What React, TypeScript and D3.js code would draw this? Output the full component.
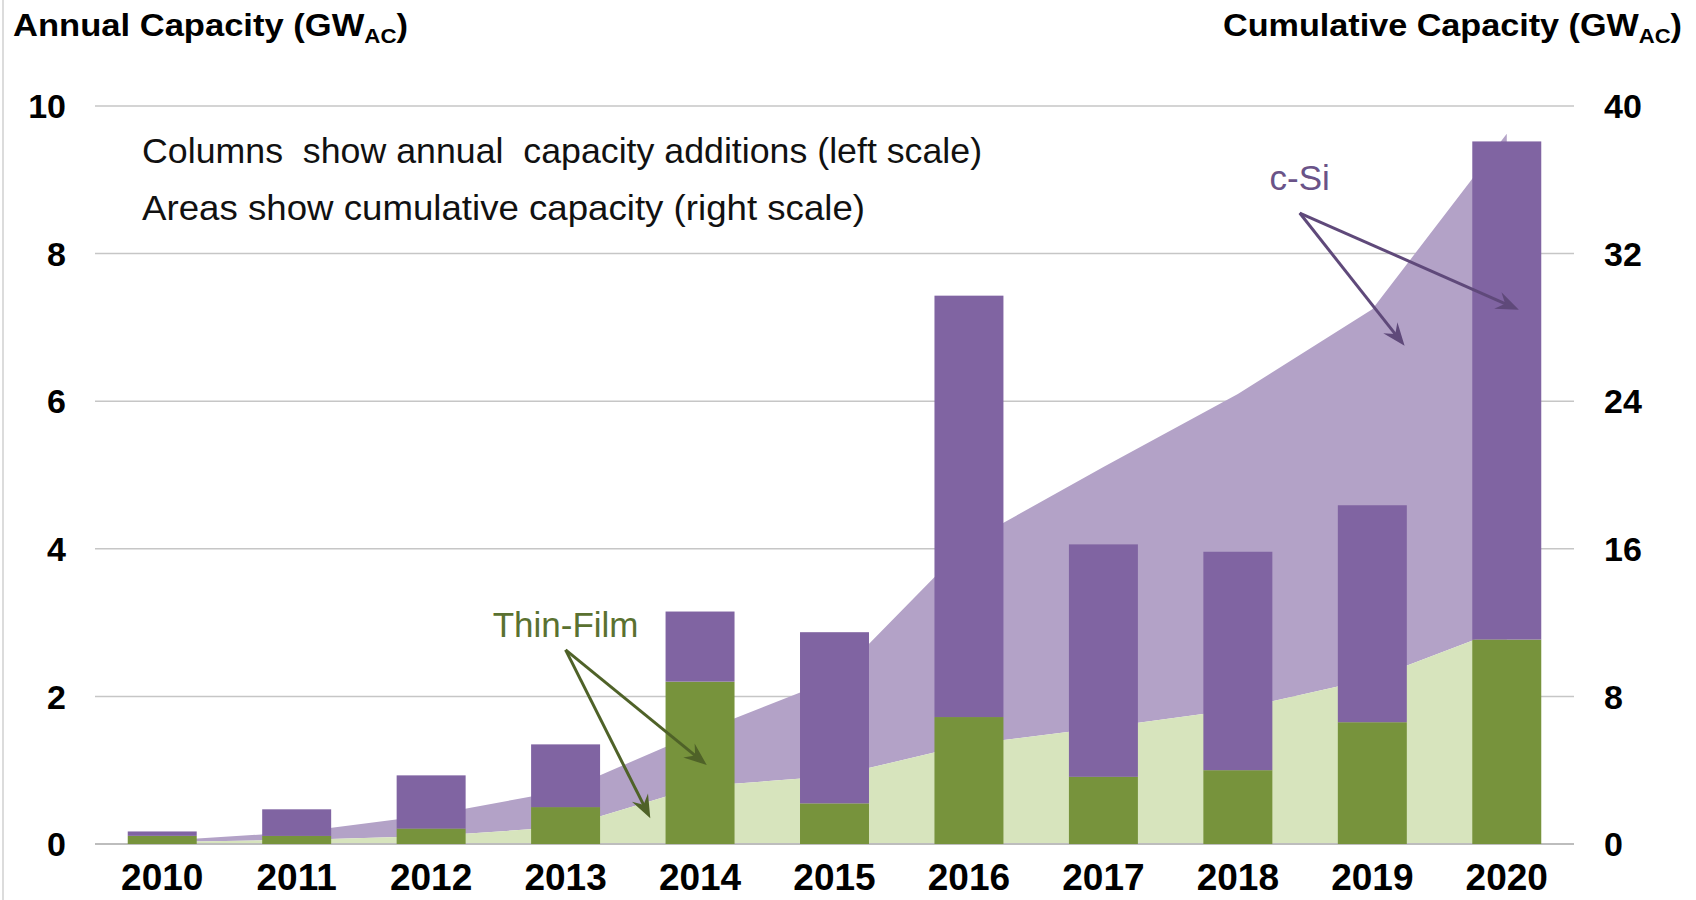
import React from 'react';
import * as d3 from 'd3';

const years = ['2010', '2011', '2012', '2013', '2014', '2015', '2016', '2017', '2018', '2019', '2020'];
const thinFilmAnnual = [0.11, 0.11, 0.21, 0.5, 2.2, 0.55, 1.72, 0.91, 1.0, 1.65, 2.77];
const cSiAnnual = [0.06, 0.36, 0.72, 0.85, 0.95, 2.32, 5.71, 3.15, 2.96, 2.94, 6.75];
const thinFilmCumulative = [0.11, 0.22, 0.43, 0.93, 3.13, 3.68, 5.4, 6.31, 7.31, 8.96, 11.73];
const cSiCumulative = [0.06, 0.42, 1.14, 1.99, 2.94, 5.26, 10.97, 14.12, 17.08, 20.02, 26.77];
const leftTicks = [0, 2, 4, 6, 8, 10];
const rightTicks = [0, 8, 16, 24, 32, 40];

const leftTitle = 'Annual Capacity (GW';
const rightTitle = 'Cumulative Capacity (GW';
const noteLines = ['Columns  show annual  capacity additions (left scale)', 'Areas show cumulative capacity (right scale)'];
const noteWidths = [840, 723];

// annotation anchors in data space: category index (fractional) and left-scale value
const thinFilmLabel = { i: 3.0, v: 2.8, text: 'Thin-Film' };
const thinFilmArrows = [
  { from: { i: 3.0, v: 2.63 }, to: { i: 3.63, v: 0.35 } },
  { from: { i: 3.0, v: 2.63 }, to: { i: 4.05, v: 1.07 } },
];
const cSiLabel = { i: 8.46, v: 8.86, text: 'c-Si' };
const cSiArrows = [
  { from: { i: 8.46, v: 8.55 }, to: { i: 9.24, v: 6.75 } },
  { from: { i: 8.46, v: 8.55 }, to: { i: 10.09, v: 7.24 } },
];
const notePos = [{ i: -0.15, v: 9.23 }, { i: -0.15, v: 8.46 }];

const W = 1696;
const H = 900;
const plotLeft = 95;
const plotRight = 1574;
const yBase = 844;
const yTop = 106;

const C_SI_BAR = '#8064A2';
const TF_BAR = '#77933C';
const C_SI_AREA = '#B3A2C7';
const TF_AREA = '#D7E4BD';
const TF_TEXT = '#5A7130';
const C_SI_TEXT = '#6A5388';
const GRID = '#C6C6C6';

export default function App() {
  const x = d3
    .scaleBand<string>()
    .domain(years)
    .range([plotLeft, plotRight])
    .paddingInner(0.487)
    .paddingOuter(0.2435);
  const bw = x.bandwidth();
  const step = x.step();
  const cx = (i: number) => (x(years[0]) as number) + bw / 2 + i * step;
  const yL = d3.scaleLinear().domain([0, 10]).range([yBase, yTop]);
  const yR = d3.scaleLinear().domain([0, 40]).range([yBase, yTop]);

  const idx = years.map((_, i) => i);
  const tfArea = d3
    .area<number>()
    .x((i) => cx(i))
    .y0(() => yR(0))
    .y1((i) => yR(thinFilmCumulative[i]));
  const cSiArea = d3
    .area<number>()
    .x((i) => cx(i))
    .y0((i) => yR(thinFilmCumulative[i]))
    .y1((i) => yR(thinFilmCumulative[i] + cSiCumulative[i]));

  const arrowLine = (a: { from: { i: number; v: number }; to: { i: number; v: number } }, shorten: number) => {
    const x1 = cx(a.from.i);
    const y1 = yL(a.from.v);
    const x2 = cx(a.to.i);
    const y2 = yL(a.to.v);
    const len = Math.hypot(x2 - x1, y2 - y1);
    const k = (len - shorten) / len;
    return { x1, y1, x2: x1 + (x2 - x1) * k, y2: y1 + (y2 - y1) * k, tx: x2, ty: y2, ang: (Math.atan2(y2 - y1, x2 - x1) * 180) / Math.PI };
  };

  const arrowHead = 'M0,0 L-23,-9 L-15,0 L-23,9 Z';

  return (
    <svg
      width={W}
      height={H}
      style={{ position: 'absolute', left: 0, top: 0, display: 'block', background: '#fff' }}
      fontFamily="'Liberation Sans', Arial, sans-serif"
    >
      <rect x={0} y={0} width={W} height={H} fill="#fff" />
      <line x1={3} x2={3} y1={0} y2={H} stroke="#D0D0D0" strokeWidth={1.5} />

      {/* gridlines */}
      {leftTicks.filter((t) => t !== 0).map((t) => (
        <line key={t} x1={plotLeft} x2={plotRight} y1={yL(t)} y2={yL(t)} stroke={GRID} strokeWidth={1.5} />
      ))}

      {/* cumulative areas */}
      <path d={cSiArea(idx) || ''} fill={C_SI_AREA} />
      <path d={tfArea(idx) || ''} fill={TF_AREA} />

      {/* baseline */}
      <line x1={plotLeft} x2={plotRight} y1={yBase} y2={yBase} stroke="#BDBDBD" strokeWidth={2} />

      {/* bars */}
      {years.map((yr, i) => (
        <g key={yr}>
          <rect x={x(yr)} y={yL(thinFilmAnnual[i])} width={bw} height={yL(0) - yL(thinFilmAnnual[i])} fill={TF_BAR} />
          <rect
            x={x(yr)}
            y={yL(thinFilmAnnual[i] + cSiAnnual[i])}
            width={bw}
            height={yL(thinFilmAnnual[i]) - yL(thinFilmAnnual[i] + cSiAnnual[i])}
            fill={C_SI_BAR}
          />
        </g>
      ))}

      {/* left ticks */}
      {leftTicks.map((t) => (
        <text key={t} x={66} y={yL(t)} dy="0.36em" textAnchor="end" fontSize={34} fontWeight="bold" fill="#000">
          {t}
        </text>
      ))}
      {/* right ticks */}
      {rightTicks.map((t) => (
        <text key={t} x={1604} y={yR(t)} dy="0.36em" textAnchor="start" fontSize={34} fontWeight="bold" fill="#000">
          {t}
        </text>
      ))}
      {/* year labels */}
      {years.map((yr) => (
        <text key={yr} x={(x(yr) as number) + bw / 2} y={890} textAnchor="middle" fontSize={37} fontWeight="bold" fill="#000">
          {yr}
        </text>
      ))}

      {/* axis titles */}
      <text x={13} y={36} fontSize={31} fontWeight="bold" fill="#000" textLength={395} lengthAdjust="spacingAndGlyphs">
        {leftTitle}
        <tspan dy={7} fontSize={20}>AC</tspan>
        <tspan dy={-7}>)</tspan>
      </text>
      <text x={1223} y={36} fontSize={31} fontWeight="bold" fill="#000" textLength={459} lengthAdjust="spacingAndGlyphs">
        {rightTitle}
        <tspan dy={7} fontSize={20}>AC</tspan>
        <tspan dy={-7}>)</tspan>
      </text>

      {/* notes */}
      {noteLines.map((line, k) => (
        <text
          key={k}
          x={cx(notePos[k].i)}
          y={yL(notePos[k].v)}
          fontSize={35}
          fill="#111"
          style={{ whiteSpace: 'pre' }}
          textLength={noteWidths[k]}
          lengthAdjust="spacingAndGlyphs"
        >
          {line}
        </text>
      ))}

      {/* Thin-Film annotation */}
      <text x={cx(thinFilmLabel.i)} y={yL(thinFilmLabel.v)} textAnchor="middle" fontSize={35} fill={TF_TEXT}>
        {thinFilmLabel.text}
      </text>
      {thinFilmArrows.map((a, k) => {
        const l = arrowLine(a, 14);
        return (
          <g key={k}>
            <line x1={l.x1} y1={l.y1} x2={l.x2} y2={l.y2} stroke="#4F6228" strokeWidth={3} />
            <path d={arrowHead} fill="#4F6228" transform={`translate(${l.tx},${l.ty}) rotate(${l.ang})`} />
          </g>
        );
      })}

      {/* c-Si annotation */}
      <text x={cx(cSiLabel.i)} y={yL(cSiLabel.v)} textAnchor="middle" fontSize={35} fill={C_SI_TEXT}>
        {cSiLabel.text}
      </text>
      {cSiArrows.map((a, k) => {
        const l = arrowLine(a, 14);
        return (
          <g key={k}>
            <line x1={l.x1} y1={l.y1} x2={l.x2} y2={l.y2} stroke="#5F497A" strokeWidth={3} />
            <path d={arrowHead} fill="#5F497A" transform={`translate(${l.tx},${l.ty}) rotate(${l.ang})`} />
          </g>
        );
      })}
    </svg>
  );
}
